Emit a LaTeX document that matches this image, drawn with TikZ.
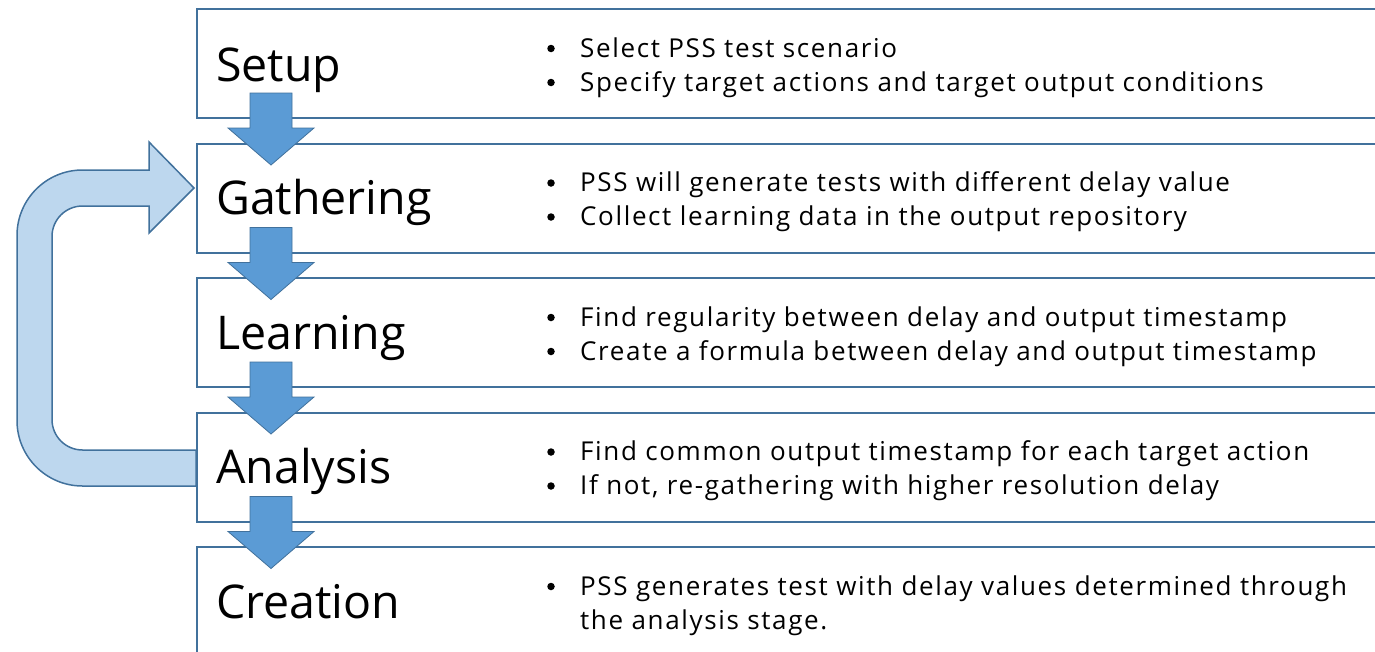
\documentclass[tikz,border=0pt]{standalone}
\usepackage{fontspec}
\setmainfont{Open Sans}
\newfontfamily\itemfont[LetterSpace=6.3]{Open Sans}
\definecolor{edge}{HTML}{41719C}
\definecolor{arrowfill}{HTML}{5B9BD5}
\definecolor{loopfill}{HTML}{BDD7EE}

\begin{document}
\begin{tikzpicture}[x=1pt,y=-1pt,
  stagebox/.style={draw=edge, line width=2pt, fill=white, rectangle,
    anchor=north west, minimum width=1240pt, minimum height=109pt, inner sep=0pt},
  stagetitle/.style={anchor=base west, inner sep=0pt,
    font=\fontsize{46.5}{50}\selectfont},
  itemtext/.style={anchor=base west, inner sep=0pt,
    font=\itemfont\fontsize{26}{30}\selectfont},
  itemdot/.style={circle, fill=black, minimum size=7.5pt, inner sep=0pt},
  flowarrow/.pic={
    \filldraw[fill=arrowfill, draw=edge, line width=0.8pt]
      (-21,0) -- (21,0) -- (21,35) -- (43,35) -- (0,72) -- (-43,35) -- (-21,35) -- cycle;
  }
]
\useasboundingbox (0,0) rectangle (1375,651);
\clip (0,0) rectangle (1375,651);

% feedback arrow from Analysis back to Gathering
\filldraw[fill=loopfill, draw=edge, line width=1.5pt, line join=miter]
  (196,450) -- (82.5,450)
  .. controls (65.65,450) and (52,436.35) .. (52,419.5)
  -- (52,236.5)
  .. controls (52,219.65) and (65.65,206) .. (82.5,206)
  -- (149,206) -- (149,233) -- (194,188) -- (149,142) -- (149,170)
  -- (82.5,170)
  .. controls (46.3,170) and (17,199.3) .. (17,235.5)
  -- (17,420.5)
  .. controls (17,456.7) and (46.3,486) .. (82.5,486)
  -- (196,486) -- cycle;

% stage boxes
\node[stagebox] (setup)    at (196,8)     {};
\node[stagebox] (gather)   at (196,142.5) {};
\node[stagebox] (learn)    at (196,277)   {};
\node[stagebox] (analysis) at (196,411.5) {};
\node[stagebox, minimum height=140pt] (create) at (196,546) {};

% stage titles
\node[stagetitle] (t1) at (216,81)    {Setup};
\node[stagetitle] (t2) at (216,214.5) {Gathering};
\node[stagetitle] (t3) at (216,349)   {Learning};
\node[stagetitle] (t4) at (216,483.5) {Analysis};
\node[stagetitle] (t5) at (216,618)   {Creation};

% bullet points
\foreach \top/\nm/\la/\lb in {
  8/s/{Select PSS test scenario}/{Specify target actions and target output conditions},
  142.5/g/{PSS will generate tests with different delay value}/{Collect learning data in the output repository},
  277/l/{Find regularity between delay and output timestamp}/{Create a formula between delay and output timestamp},
  411.5/a/{Find common output timestamp for each target action}/{If not, re-gathering with higher resolution delay}}{
  \node[itemdot] (\nm b1) at (551,\top+40.5) {};
  \node[itemtext] (\nm a)  at (580,\top+49) {\la};
  \node[itemdot] (\nm b2) at (551,\top+74.5) {};
  \node[itemtext] (\nm c)  at (580,\top+83) {\lb};
}
\node[itemdot] (cb1) at (551,586.5) {};
\node[itemtext] (ca)  at (580,595) {PSS generates test with delay values determined through};
\node[itemtext] (cc)  at (580,629) {the analysis stage.};

% flow arrows between stages
\pic at (271,93)    {flowarrow};
\pic at (271,227.5) {flowarrow};
\pic at (271,362)   {flowarrow};
\pic at (271,496.5) {flowarrow};
\end{tikzpicture}
\end{document}
